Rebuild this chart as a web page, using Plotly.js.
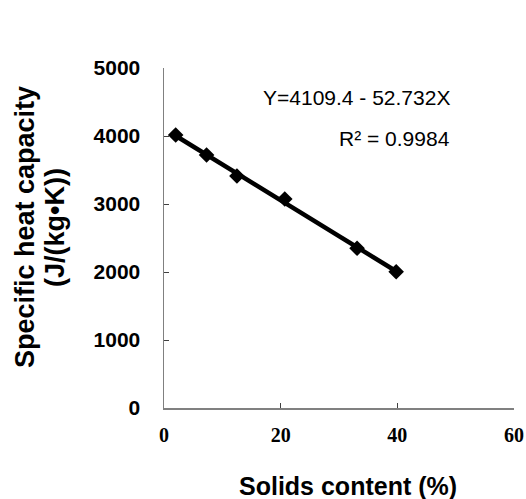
<!DOCTYPE html>
<html>
<head>
<meta charset="utf-8">
<script src="https://cdn.plot.ly/plotly-3.0.1.min.js"></script>
<style>html,body{margin:0;padding:0;background:#fff;}#chart{width:526px;height:499px;}</style>
</head>
<body>
<div id="chart"></div>
<script>
// Measured points
const solids = [2.0, 7.3, 12.5, 20.7, 33.1, 39.8];
const heatCapacity = [4015, 3720, 3412, 3074, 2349, 2004];
// Fitted line end points (as drawn)
const fitX = [2.0, 39.8];
const fitY = [4004, 2011];
const xTicks = [0, 20, 40, 60];
const yTicks = [0, 1000, 2000, 3000, 4000, 5000];
const equationText = 'Y=4109.4 - 52.732X';
const r2Text = 'R² = 0.9984';
const xTitle = 'Solids content (%)';
const yTitle1 = 'Specific heat capacity';
const yTitle2 = '(J/(kg•K))';

const sans = 'Liberation Sans, Arial, sans-serif';
const serif = 'Liberation Serif, Times New Roman, serif';

const traces = [
  {x: fitX, y: fitY, mode: 'lines', line: {color: '#000', width: 4.5}, hoverinfo: 'skip', showlegend: false},
  {x: solids, y: heatCapacity, mode: 'markers', marker: {symbol: 'diamond', size: 12, color: '#000'}, showlegend: false}
];

const layout = {
  width: 526, height: 499,
  margin: {l: 164, r: 12, t: 68, b: 91},
  paper_bgcolor: '#fff', plot_bgcolor: '#fff',
  showlegend: false,
  xaxis: {
    range: [0, 60], tickvals: xTicks, ticktext: xTicks.map(String),
    showgrid: false, zeroline: false, showline: true, linecolor: '#808080', linewidth: 1.5,
    ticks: 'inside', ticklen: 5, tickcolor: '#404040', tickwidth: 1,
    tickfont: {family: serif, size: 20, color: '#000', weight: 'bold'},
    ticklabelstandoff: 8
  },
  yaxis: {
    range: [0, 5000], tickvals: yTicks, ticktext: yTicks.map(String),
    showgrid: false, zeroline: false, showline: true, linecolor: '#808080', linewidth: 1.5,
    ticks: 'inside', ticklen: 5, tickcolor: '#404040', tickwidth: 1,
    tickfont: {family: sans, size: 21, color: '#000', weight: 'bold'},
    ticklabelstandoff: 18
  },
  annotations: [
    {text: equationText, xref: 'paper', yref: 'paper', x: (452-164)/350, y: (408-97)/340, xanchor: 'right', yanchor: 'middle', showarrow: false, font: {family: sans, size: 21, color: '#000'}},
    {text: r2Text, xref: 'paper', yref: 'paper', x: (452-164)/350, y: (408-138)/340, xanchor: 'right', yanchor: 'middle', showarrow: false, font: {family: sans, size: 21, color: '#000'}},
    {text: xTitle, xref: 'paper', yref: 'paper', x: (348-164)/350, y: (408-486)/340, xanchor: 'center', yanchor: 'middle', showarrow: false, font: {family: sans, size: 25, color: '#000', weight: 'bold'}},
    {text: yTitle1, xref: 'paper', yref: 'paper', x: (25-164)/350, y: (408-227)/340, xanchor: 'center', yanchor: 'middle', textangle: -90, showarrow: false, font: {family: sans, size: 27, color: '#000', weight: 'bold'}},
    {text: yTitle2, xref: 'paper', yref: 'paper', x: (55-164)/350, y: (408-228)/340, xanchor: 'center', yanchor: 'middle', textangle: -90, showarrow: false, font: {family: sans, size: 27, color: '#000', weight: 'bold'}}
  ]
};

Plotly.newPlot('chart', traces, layout, {staticPlot: true, displayModeBar: false});
</script>
</body>
</html>
